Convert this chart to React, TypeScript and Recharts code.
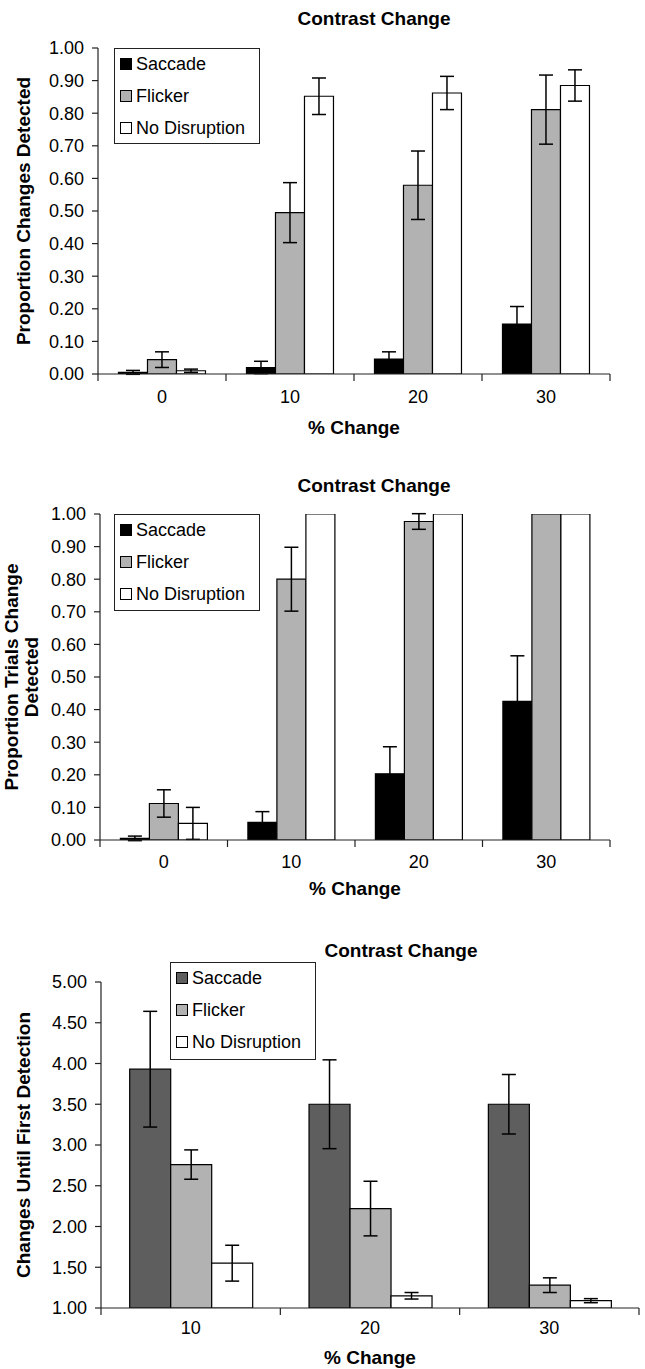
import { Bar, BarChart, ErrorBar, XAxis, YAxis } from "recharts";

const FONT = '"Liberation Sans", Arial, Helvetica, sans-serif';

const seriesNames = ["Saccade", "Flicker", "No Disruption"];

// top panel: proportion of changes detected
const pctChange1 = ["0", "10", "20", "30"];
const saccade1 = [0.005, 0.02, 0.046, 0.153];
const saccade1Err = [0.006, 0.019, 0.022, 0.054];
const flicker1 = [0.044, 0.495, 0.579, 0.811];
const flicker1Err = [0.024, 0.092, 0.105, 0.106];
const noDisruption1 = [0.01, 0.852, 0.862, 0.885];
const noDisruption1Err = [0.005, 0.056, 0.051, 0.048];

// middle panel: proportion of trials where the change was detected
const pctChange2 = ["0", "10", "20", "30"];
const saccade2 = [0.005, 0.054, 0.203, 0.425];
const saccade2Err = [0.007, 0.033, 0.083, 0.14];
const flicker2 = [0.112, 0.8, 0.977, 1.0];
const flicker2Err = [0.042, 0.098, 0.024, 0];
const noDisruption2 = [0.051, 1.0, 1.0, 1.0];
const noDisruption2Err = [0.049, 0, 0, 0];

// bottom panel: changes until first detection
const pctChange3 = ["10", "20", "30"];
const saccade3 = [3.93, 3.5, 3.5];
const saccade3Err = [0.71, 0.545, 0.365];
const flicker3 = [2.76, 2.22, 1.28];
const flicker3Err = [0.18, 0.335, 0.09];
const noDisruption3 = [1.55, 1.15, 1.09];
const noDisruption3Err = [0.22, 0.04, 0.025];

const propTicks = [0, 0.1, 0.2, 0.3, 0.4, 0.5, 0.6, 0.7, 0.8, 0.9, 1.0];
const countTicks = [1, 1.5, 2, 2.5, 3, 3.5, 4, 4.5, 5];

const blackSet = ["#000000", "#b2b2b2", "#ffffff"];
const graySet = ["#5e5e5e", "#b2b2b2", "#ffffff"];

type Row = {
  cat: string;
  s: number;
  sErr: number;
  f: number;
  fErr: number;
  n: number;
  nErr: number;
};

function buildRows(
  cats: string[],
  s: number[],
  sErr: number[],
  f: number[],
  fErr: number[],
  n: number[],
  nErr: number[]
): Row[] {
  return cats.map((cat, i) => ({
    cat,
    s: s[i],
    sErr: sErr[i],
    f: f[i],
    fErr: fErr[i],
    n: n[i],
    nErr: nErr[i],
  }));
}

type PanelProps = {
  top: number;
  height: number;
  rows: Row[];
  colors: string[];
  plot: { left: number; right: number; top: number; bottom: number };
  domain: [number, number];
  ticks: number[];
  title: { x: number; y: number };
  yLabel: { lines: string[]; xs: number[]; y: number };
  xTitleY: number;
  labelDy: number;
  legend: { left: number; top: number; width: number; height: number };
};

function BoundaryTick(props: any) {
  const { x, y, payload, index, visibleTicksCount, band, labelDy } = props;
  const half = payload && payload.offset ? payload.offset : band / 2;
  return (
    <g>
      <line x1={x - half} x2={x - half} y1={y} y2={y + 7} stroke="#222" strokeWidth={1.2} />
      {index === visibleTicksCount - 1 && (
        <line x1={x + half} x2={x + half} y1={y} y2={y + 7} stroke="#222" strokeWidth={1.2} />
      )}
      <text
        x={x}
        y={y + labelDy}
        textAnchor="middle"
        dominantBaseline="central"
        fontSize={18}
        fontFamily={FONT}
        fill="#000"
      >
        {payload.value}
      </text>
    </g>
  );
}

function Panel(p: PanelProps) {
  const W = 645;
  const yAxisW = 60;
  const xAxisH = 30;
  const band = (p.plot.right - p.plot.left) / p.rows.length;
  const keys: [keyof Row, keyof Row][] = [
    ["s", "sErr"],
    ["f", "fErr"],
    ["n", "nErr"],
  ];

  return (
    <div style={{ position: "absolute", left: 0, top: p.top, width: W, height: p.height }}>
      <BarChart
        width={W}
        height={p.height}
        data={p.rows}
        margin={{
          top: p.plot.top,
          right: W - p.plot.right,
          left: p.plot.left - yAxisW,
          bottom: p.height - p.plot.bottom - xAxisH,
        }}
        barCategoryGap="16%"
        barGap={0}
      >
        <XAxis
          dataKey="cat"
          height={xAxisH}
          axisLine={{ stroke: "#222", strokeWidth: 1.2 }}
          tickLine={false}
          tickSize={0}
          tickMargin={0}
          interval={0}
          tick={(t: any) => <BoundaryTick {...t} band={band} labelDy={p.labelDy} />}
        />
        <YAxis
          width={yAxisW}
          domain={p.domain}
          ticks={p.ticks}
          allowDataOverflow
          axisLine={{ stroke: "#222", strokeWidth: 1.2 }}
          tickLine={{ stroke: "#222", strokeWidth: 1.2 }}
          tickSize={6}
          tickMargin={8}
          tickFormatter={(v: number) => v.toFixed(2)}
          tick={{ fontSize: 18, fill: "#000", fontFamily: FONT }}
        />
        {keys.map(([k, e], i) => (
          <Bar
            key={k}
            dataKey={k}
            name={seriesNames[i]}
            fill={p.colors[i]}
            stroke="#000"
            strokeWidth={1.2}
            isAnimationActive={false}
          >
            <ErrorBar dataKey={e} width={7} stroke="#000" strokeWidth={1.5} direction="y" />
          </Bar>
        ))}
        <text
          x={p.title.x}
          y={p.title.y}
          textAnchor="middle"
          dominantBaseline="central"
          fontSize={19}
          fontWeight="bold"
          fontFamily={FONT}
          fill="#000"
        >
          Contrast Change
        </text>
        <text
          x={(p.plot.left + p.plot.right) / 2}
          y={p.xTitleY}
          textAnchor="middle"
          dominantBaseline="central"
          fontSize={19}
          fontWeight="bold"
          fontFamily={FONT}
          fill="#000"
        >
          % Change
        </text>
        {p.yLabel.lines.map((line, i) => (
          <text
            key={line}
            transform={`translate(${p.yLabel.xs[i]},${p.yLabel.y}) rotate(-90)`}
            textAnchor="middle"
            dominantBaseline="central"
            fontSize={19}
            fontWeight="bold"
            fontFamily={FONT}
            fill="#000"
          >
            {line}
          </text>
        ))}
      </BarChart>
      <div
        style={{
          position: "absolute",
          left: p.legend.left,
          top: p.legend.top,
          width: p.legend.width,
          height: p.legend.height,
          boxSizing: "border-box",
          border: "1.5px solid #222",
          background: "#fff",
          fontFamily: FONT,
          fontSize: 18,
          color: "#000",
        }}
      >
        {seriesNames.map((name, i) => (
          <div
            key={name}
            style={{
              position: "absolute",
              left: 5,
              top: 15 + i * 32 - 11,
              height: 22,
              display: "flex",
              alignItems: "center",
              whiteSpace: "nowrap",
            }}
          >
            <span
              style={{
                display: "inline-block",
                width: 10,
                height: 10,
                border: "1px solid #000",
                background: p.colors[i],
                marginRight: 4,
              }}
            />
            {name}
          </div>
        ))}
      </div>
    </div>
  );
}

export default function App() {
  const rows1 = buildRows(pctChange1, saccade1, saccade1Err, flicker1, flicker1Err, noDisruption1, noDisruption1Err);
  const rows2 = buildRows(pctChange2, saccade2, saccade2Err, flicker2, flicker2Err, noDisruption2, noDisruption2Err);
  const rows3 = buildRows(pctChange3, saccade3, saccade3Err, flicker3, flicker3Err, noDisruption3, noDisruption3Err);

  return (
    <div
      style={{
        position: "absolute",
        left: 0,
        top: 0,
        width: 645,
        height: 1369,
        background: "#fff",
        overflow: "hidden",
      }}
    >
      <Panel
        top={0}
        height={440}
        rows={rows1}
        colors={blackSet}
        plot={{ left: 98, right: 610, top: 48, bottom: 374 }}
        domain={[0, 1]}
        ticks={propTicks}
        title={{ x: 374, y: 18 }}
        yLabel={{ lines: ["Proportion Changes Detected"], xs: [23], y: 211 }}
        xTitleY={427}
        labelDy={23}
        legend={{ left: 114, top: 48, width: 146, height: 96 }}
      />
      <Panel
        top={440}
        height={460}
        rows={rows2}
        colors={blackSet}
        plot={{ left: 100, right: 610, top: 74, bottom: 400 }}
        domain={[0, 1]}
        ticks={propTicks}
        title={{ x: 374, y: 45 }}
        yLabel={{ lines: ["Proportion Trials Change", "Detected"], xs: [11, 31], y: 237 }}
        xTitleY={448}
        labelDy={22}
        legend={{ left: 114, top: 74, width: 146, height: 97 }}
      />
      <Panel
        top={900}
        height={469}
        rows={rows3}
        colors={graySet}
        plot={{ left: 101, right: 639, top: 82, bottom: 408 }}
        domain={[1, 5]}
        ticks={countTicks}
        title={{ x: 401, y: 50 }}
        yLabel={{ lines: ["Changes Until First Detection"], xs: [23], y: 245 }}
        xTitleY={457}
        labelDy={20}
        legend={{ left: 170, top: 62, width: 146, height: 98 }}
      />
    </div>
  );
}
